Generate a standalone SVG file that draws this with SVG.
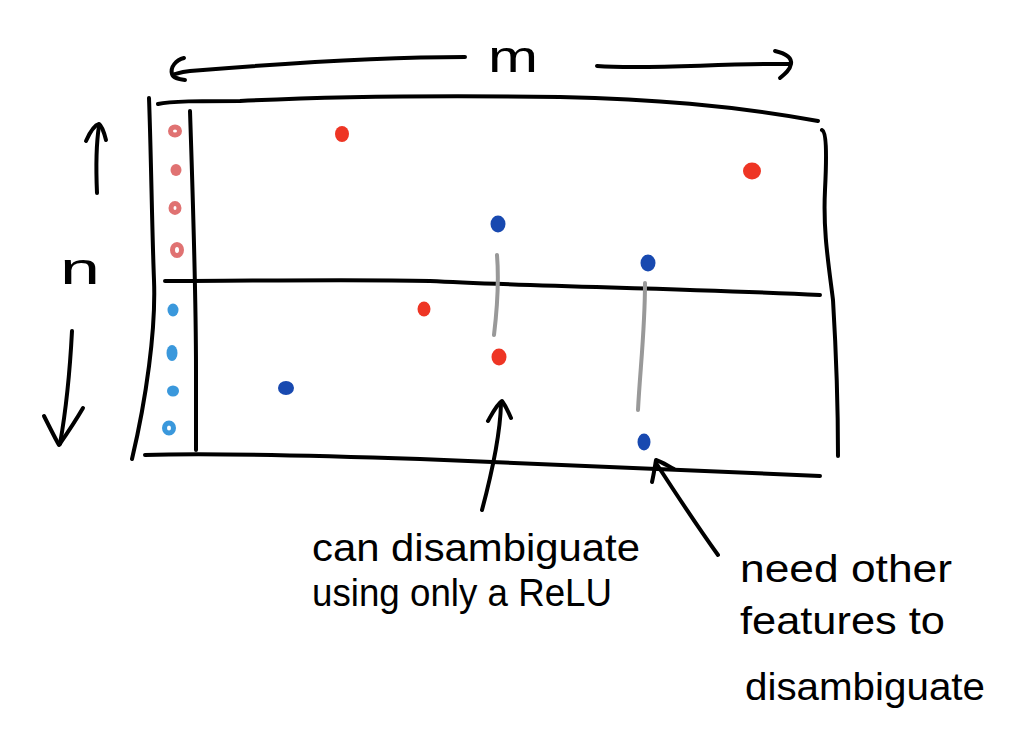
<svg xmlns="http://www.w3.org/2000/svg" width="1027" height="749" viewBox="0 0 1027 749">
<style>
.ink{fill:none;stroke:#000;stroke-width:4;stroke-linecap:round;stroke-linejoin:round}
.gray{fill:none;stroke:#999;stroke-width:4;stroke-linecap:round}
.lbl{font-family:"Liberation Sans","Noto Sans",sans-serif;fill:#000}
.r{fill:#ee3524}.b{fill:#1849b0}
.lr{fill:none;stroke:#e07272;stroke-width:5}.lb{fill:none;stroke:#3a98dc;stroke-width:5}
.fr{fill:#e07272}.fb{fill:#3a98dc}
</style>
<rect width="1027" height="749" fill="#fff"/>
<g id="matrix">
<path class="ink" d="M158,104 C170,101 200,101 240,101 C320,97 420,95 560,97 C650,99 730,105 818,121"/>
<path class="ink" d="M149,98 C151,150 152,230 154,280 C156,330 146,400 132,459"/>
<path class="ink" d="M190,111 C193,200 196,300 196,370 C196,400 196,430 196,450"/>
<path class="ink" d="M165,281 C250,281 350,279 430,281 C520,286 700,289 820,295"/>
<path class="ink" d="M145,455 C200,453 300,455 420,459 C560,465 700,470 820,476"/>
<path class="ink" d="M822,130 C826,132 827,150 825,190 C823,230 828,260 833,300 C836,350 838,400 838,456"/>
</g>
<g id="m-axis">
<path class="ink" d="M465,57 C400,57 300,62 190,71 C180,72 176,74 175,74"/>
<path class="ink" d="M184,58 C176,60 170,67 172,74 C173,78 178,79 185,80"/>
<path class="ink" d="M597,66 C650,70 720,63 790,64"/>
<path class="ink" d="M775,51 C784,53 792,57 791,64 C790,70 785,74 780,78"/>
<text class="lbl" x="488" y="72" font-size="44" textLength="50" lengthAdjust="spacingAndGlyphs">m</text>
</g>
<g id="n-axis">
<path class="ink" d="M97,193 C96,170 96,145 99,126"/>
<path class="ink" d="M86,141 C90,132 95,125 99,124 C102,126 104,132 106,140"/>
<path class="ink" d="M72,331 C70,370 66,410 60,444"/>
<path class="ink" d="M44,416 C50,428 55,438 59,445 C66,435 76,420 83,408"/>
<text class="lbl" x="60" y="284" font-size="44" textLength="40" lengthAdjust="spacingAndGlyphs">n</text>
</g>
<g id="feature-dots">
<ellipse class="lr" cx="175" cy="131" rx="4.5" ry="4"/>
<ellipse class="fr" cx="176" cy="170" rx="5.5" ry="6"/>
<ellipse class="lr" cx="175" cy="208" rx="4" ry="4.5"/>
<ellipse class="lr" cx="177" cy="250" rx="4.5" ry="5.5"/>
<ellipse class="fb" cx="173" cy="310" rx="5.5" ry="6.5"/>
<ellipse class="fb" cx="172" cy="353" rx="5.5" ry="8"/>
<ellipse class="fb" cx="173" cy="391" rx="6" ry="5.5"/>
<ellipse class="lb" cx="169" cy="428" rx="4.5" ry="5"/>
</g>
<g id="points">
<ellipse class="r" cx="342" cy="134" rx="7" ry="8"/>
<ellipse class="r" cx="752" cy="171" rx="9" ry="8.5"/>
<ellipse class="r" cx="424" cy="309" rx="6.5" ry="7.5"/>
<ellipse class="r" cx="499" cy="357" rx="7.5" ry="8.5"/>
<ellipse class="b" cx="498" cy="224" rx="7.5" ry="8.5"/>
<ellipse class="b" cx="648" cy="263" rx="7.5" ry="8.5"/>
<ellipse class="b" cx="286" cy="388" rx="8" ry="7"/>
<ellipse class="b" cx="644" cy="442" rx="6.5" ry="8.5"/>
</g>
<g id="connectors">
<path class="gray" d="M497,255 C499,280 497,310 494,335"/>
<path class="gray" d="M645,283 C645,330 640,370 638,410"/>
<path class="ink" d="M482,510 C490,480 500,440 501,404"/>
<path class="ink" d="M488,421 C493,412 497,404 502,401 C505,405 508,411 511,418"/>
<path class="ink" d="M718,555 C700,530 680,500 656,463"/>
<path class="ink" d="M652,482 C654,473 655,466 656,460 C662,462 668,466 674,469"/>
</g>
<g id="label-left">
<text class="lbl" x="312" y="561" font-size="38" textLength="328" lengthAdjust="spacingAndGlyphs">can disambiguate</text>
<text class="lbl" x="312" y="606" font-size="38" textLength="300" lengthAdjust="spacingAndGlyphs">using only a ReLU</text>
</g>
<g id="label-right">
<text class="lbl" x="740" y="582" font-size="38" textLength="212" lengthAdjust="spacingAndGlyphs">need other</text>
<text class="lbl" x="740" y="634" font-size="38" textLength="205" lengthAdjust="spacingAndGlyphs">features to</text>
<text class="lbl" x="745" y="700" font-size="38" textLength="240" lengthAdjust="spacingAndGlyphs">disambiguate</text>
</g>
</svg>
